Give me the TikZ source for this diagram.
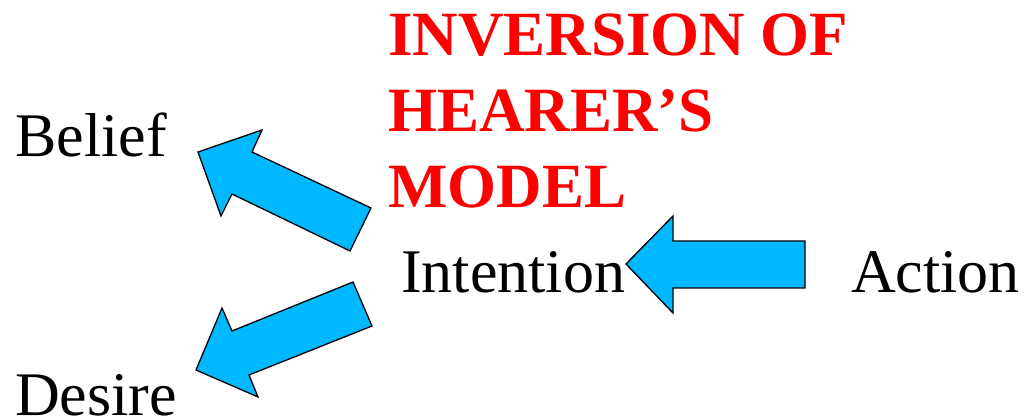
\documentclass[tikz,border=0pt]{standalone}
\usepackage{fontspec}
\setmainfont{Liberation Serif}
\usepackage{xcolor}
\usepackage{tikz}
\usetikzlibrary{positioning}
\definecolor{arrowblue}{RGB}{0,184,255}
\definecolor{titlered}{RGB}{255,0,0}

\begin{document}
\begin{tikzpicture}[x=1pt,y=-1pt,
  word/.style={inner sep=0pt,anchor=base west,font=\fontsize{62}{70}\selectfont},
  title/.style={inner sep=0pt,anchor=north west,align=left,text=titlered,
    font=\fontsize{63}{76}\selectfont\bfseries},
  blockarrow/.style={draw=black,line width=1.3pt,fill=arrowblue,line join=miter}]
  \useasboundingbox (0,0) rectangle (1025,419);
  \node[word] (belief) at (15,157) {Belief};
  \node[word] (intention) at (401,293) {Intention};
  \node[word] (action) at (851,293) {Action};
  \node[word] (desire) at (15,415) {Desire};
  \node[title] (inv) at (388,14) {INVERSION OF\\HEARER’S\\MODEL};
  % intention -> belief
  \draw[blockarrow] (198,152) -- (262,130) -- (252,152) -- (371,208)
    -- (350,251) -- (232,194) -- (221,216) -- cycle;
  % intention -> desire
  \draw[blockarrow] (196,370) -- (222,308) -- (232,331) -- (353,282)
    -- (372,326) -- (249,375) -- (258,397) -- cycle;
  % action -> intention
  \draw[blockarrow] (626,264) -- (673,216) -- (673,241) -- (805,241)
    -- (805,288) -- (673,288) -- (673,313) -- cycle;
\end{tikzpicture}
\end{document}
